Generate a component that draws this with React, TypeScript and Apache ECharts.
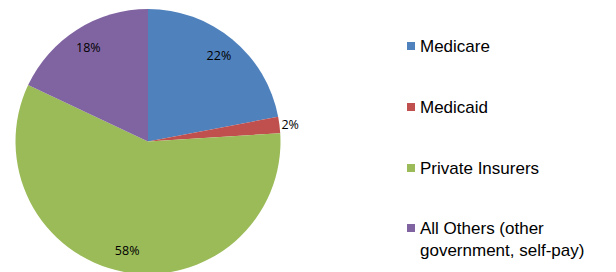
import React, { useEffect, useRef } from "react";
import * as echarts from "echarts";

const categories = ["Medicare", "Medicaid", "Private Insurers", "All Others (other government, self-pay)"];
const legendLines = [["Medicare"], ["Medicaid"], ["Private Insurers"], ["All Others (other", "government, self-pay)"]];
const values = [22, 2, 58, 18];
const colors = ["#4F81BD", "#C0504D", "#9BBB59", "#8064A2"];

export default function App() {
  const ref = useRef<HTMLDivElement>(null);
  useEffect(() => {
    if (!ref.current) return;
    const chart = echarts.init(ref.current, undefined, { renderer: "svg" });
    const data = categories.map((name, i) => ({ name, value: values[i], itemStyle: { color: colors[i] } }));
    const labelData = categories.map((name, i) => ({
      name,
      value: values[i],
      label:
        values[i] < 5
          ? { position: "outside", distanceToLabelLine: 0 }
          : { position: "inside" },
      labelLine: { show: false, length: 2, length2: 0 },
    }));
    const legendY = [46, 107, 168, 228];
    const graphic: any[] = [];
    legendLines.forEach((lines, i) => {
      graphic.push({
        type: "rect",
        shape: { x: 407, y: legendY[i] - 4, width: 8, height: 8 },
        style: { fill: colors[i] },
        silent: true,
      });
      lines.forEach((t, j) => {
        graphic.push({
          type: "text",
          x: 420,
          y: legendY[i] + j * 22,
          style: {
            text: t,
            fill: "#000",
            font: '17px "Liberation Sans", Arial, sans-serif',
            verticalAlign: "middle",
            align: "left",
          },
          silent: true,
        });
      });
    });
    chart.setOption({
      animation: false,
      backgroundColor: "#fff",
      series: [
        {
          type: "pie",
          center: [148, 141.5],
          radius: [0, 132.5],
          startAngle: 90,
          clockwise: true,
          silent: true,
          label: { show: false },
          labelLine: { show: false },
          itemStyle: { borderWidth: 0 },
          data,
        },
        {
          type: "pie",
          center: [148, 141.5],
          radius: [84, 132.5],
          startAngle: 90,
          clockwise: true,
          silent: true,
          itemStyle: { color: "rgba(0,0,0,0)", borderWidth: 0 },
          label: {
            show: true,
            formatter: "{c}%",
            color: "#000",
            fontSize: 12.5,
            fontFamily: '"Open Sans", sans-serif',
          },
          data: labelData,
        },
      ],
      graphic,
    });
    return () => chart.dispose();
  }, []);
  return <div ref={ref} style={{ position: "fixed", left: 0, top: 0, width: 616, height: 272 }} />;
}
